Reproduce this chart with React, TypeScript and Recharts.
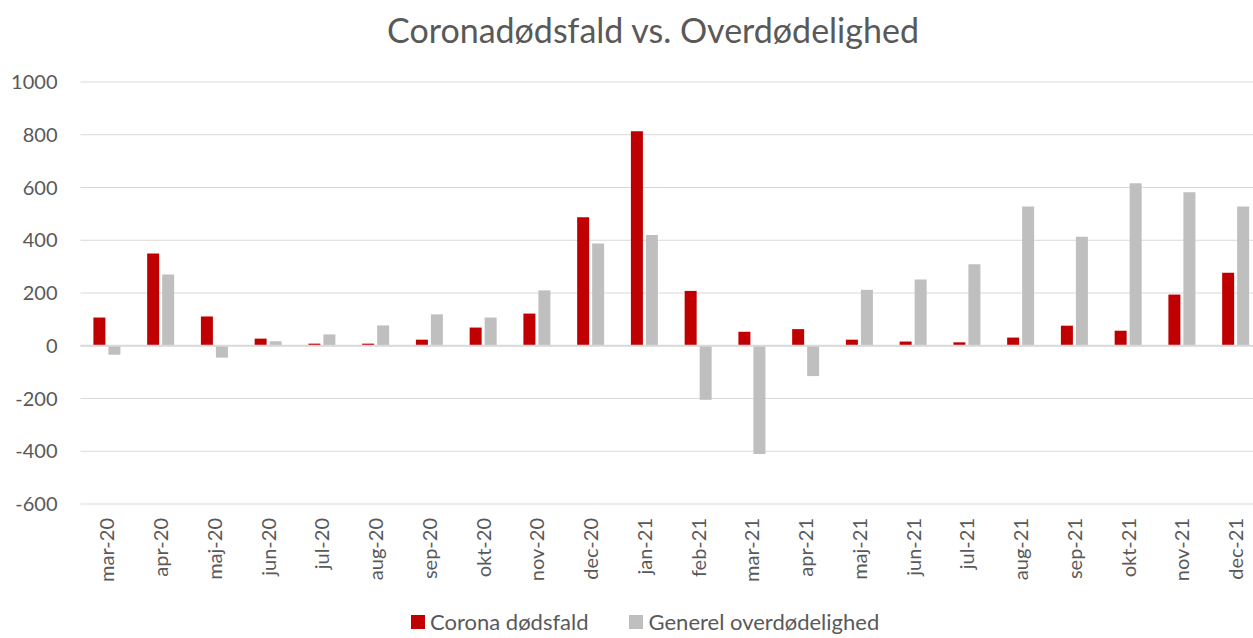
import React from 'react';
import { BarChart, Bar, XAxis, YAxis, CartesianGrid, ReferenceLine } from 'recharts';

const months = [
  'mar-20', 'apr-20', 'maj-20', 'jun-20', 'jul-20', 'aug-20', 'sep-20', 'okt-20', 'nov-20', 'dec-20', 'jan-21',
  'feb-21', 'mar-21', 'apr-21', 'maj-21', 'jun-21', 'jul-21', 'aug-21', 'sep-21', 'okt-21', 'nov-21', 'dec-21',
];
const coronaDeaths = [107, 350, 111, 27, 8, 8, 23, 69, 122, 487, 813, 208, 53, 63, 23, 16, 13, 31, 76, 57, 194, 277];
const excessDeaths = [-34, 270, -45, 17, 43, 77, 119, 107, 210, 388, 420, -205, -410, -115, 212, 251, 309, 528, 413, 616, 582, 528];
const yTicks = [-600, -400, -200, 0, 200, 400, 600, 800, 1000];

const data = months.map((m, i) => ({ month: m, corona: coronaDeaths[i], excess: excessDeaths[i] }));

const FONT = 'Lato, "Noto Sans", sans-serif';
const TEXT = '#595959';
const RED = '#C00000';
const GREY = '#BFBFBF';

const MonthTick = (props: any) => {
  const { x, y, payload } = props;
  return (
    <g transform={`translate(${x},${y})`}>
      <text transform="rotate(-90)" x={-12} y={0} dy="0.35em" textAnchor="end" fill={TEXT} fontSize={20} fontFamily={FONT}>
        {payload.value}
      </text>
    </g>
  );
};

export default function App() {
  return (
    <div style={{ position: 'absolute', left: 0, top: 0, width: 1253, height: 638, overflow: 'hidden', background: '#fff' }}>
      <div style={{ position: 'absolute', left: 0, top: 9, width: 1306, textAlign: 'center', fontFamily: FONT, fontSize: 34, color: TEXT }}>
        Coronadødsfald vs. Overdødelighed
      </div>
      <BarChart
        width={1265}
        height={638}
        data={data}
        margin={{ top: 82, right: 2, left: 0, bottom: 0 }}
        barCategoryGap="24%"
        barGap={3}
      >
        <CartesianGrid vertical={false} stroke="#D9D9D9" strokeWidth={1} />
        <XAxis dataKey="month" height={134} axisLine={false} tickLine={false} tickSize={0} interval={0} tick={<MonthTick />} />
        <YAxis
          width={80.5}
          domain={[-600, 1000]}
          ticks={yTicks}
          axisLine={false}
          tickLine={false}
          tickSize={0}
          tickMargin={23}
          tick={{ fill: TEXT, fontSize: 20, fontFamily: FONT }}
        />
        <ReferenceLine y={0} stroke="#D9D9D9" strokeWidth={2} />
        <Bar dataKey="corona" fill={RED} isAnimationActive={false} />
        <Bar dataKey="excess" fill={GREY} isAnimationActive={false} />
      </BarChart>
      <div style={{ position: 'absolute', left: 411, top: 611, lineHeight: 1, display: 'flex', alignItems: 'center', fontFamily: FONT, fontSize: 22, color: TEXT, whiteSpace: 'nowrap' }}>
        <span style={{ display: 'inline-block', width: 14, height: 14, background: RED, marginRight: 5 }} />
        <span>Corona dødsfald</span>
        <span style={{ display: 'inline-block', width: 14, height: 14, background: GREY, marginLeft: 40, marginRight: 6 }} />
        <span>Generel overdødelighed</span>
      </div>
    </div>
  );
}
